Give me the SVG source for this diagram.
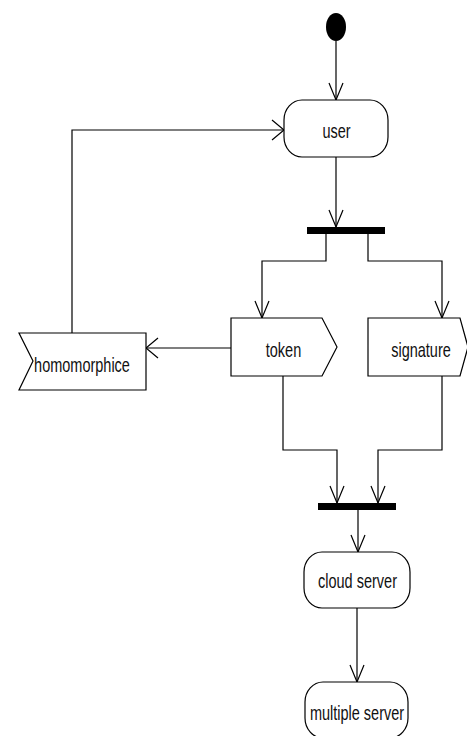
<svg xmlns="http://www.w3.org/2000/svg" width="467" height="736" viewBox="0 0 467 736">
<style>
.n{fill:#fff;stroke:#000;stroke-width:1.2}
.bar{fill:#000}
.c{fill:none;stroke:#000;stroke-width:1.2}
.t{font-family:"Liberation Sans",Arial,sans-serif;font-size:14.5px;fill:#111;text-anchor:middle}
</style>
<defs>
<marker id="av" markerUnits="userSpaceOnUse" markerWidth="20" markerHeight="18" refX="17" refY="8" orient="auto" overflow="visible">
<path d="M0,1 L17,8 L0,15" fill="none" stroke="#000" stroke-width="1.2"/>
</marker>
<marker id="ah" markerUnits="userSpaceOnUse" markerWidth="14" markerHeight="22" refX="12" refY="10" orient="auto" overflow="visible">
<path d="M0,0 L12,10 L0,20" fill="none" stroke="#000" stroke-width="1.2"/>
</marker>
</defs>
<rect width="467" height="736" fill="#fff"/>
<g id="connectors">
<path class="c" d="M336,41 V100" marker-end="url(#av)"/>
<path class="c" d="M336,157 V227" marker-end="url(#av)"/>
<path class="c" d="M326,234 V261 H262 V318" marker-end="url(#av)"/>
<path class="c" d="M368,234 V261 H442 V318" marker-end="url(#av)"/>
<path class="c" d="M231,348 H146" marker-end="url(#ah)"/>
<path class="c" d="M72,333 V130 H284" marker-end="url(#ah)"/>
<path class="c" d="M283,376 V450 H337 V503" marker-end="url(#av)"/>
<path class="c" d="M442,376 V450 H378 V503" marker-end="url(#av)"/>
<path class="c" d="M358,510 V552" marker-end="url(#av)"/>
<path class="c" d="M357,608 V682" marker-end="url(#av)"/>
</g>
<g id="start"><ellipse cx="336" cy="27" rx="10" ry="14" fill="#000"/></g>
<g id="user">
<rect class="n" x="284" y="100" width="104" height="57" rx="18" ry="20"/>
<text class="t" transform="translate(336.5,138) scale(1,1.4)">user</text>
</g>
<g id="fork"><rect class="bar" x="307" y="227" width="78" height="7"/></g>
<g id="token">
<polygon class="n" points="231,318 322,318 337,347 322,376 231,376"/>
<text class="t" transform="translate(283.5,357) scale(1,1.4)">token</text>
</g>
<g id="signature">
<polygon class="n" points="368,318 460,318 468,347 460,376 368,376"/>
<text class="t" transform="translate(421,357) scale(1,1.4)">signature</text>
</g>
<g id="homomorphice">
<polygon class="n" points="19,333 146,333 146,390 19,390 33,361"/>
<text class="t" transform="translate(82,372) scale(1,1.4)">homomorphice</text>
</g>
<g id="join"><rect class="bar" x="318" y="503" width="78" height="7"/></g>
<g id="cloud-server">
<rect class="n" x="304" y="552" width="106" height="56" rx="18" ry="20"/>
<text class="t" transform="translate(357.5,588) scale(1,1.4)">cloud server</text>
</g>
<g id="multiple-server">
<rect class="n" x="305" y="682" width="103" height="56" rx="18" ry="20"/>
<text class="t" transform="translate(357,720) scale(1,1.4)">multiple server</text>
</g>
</svg>
